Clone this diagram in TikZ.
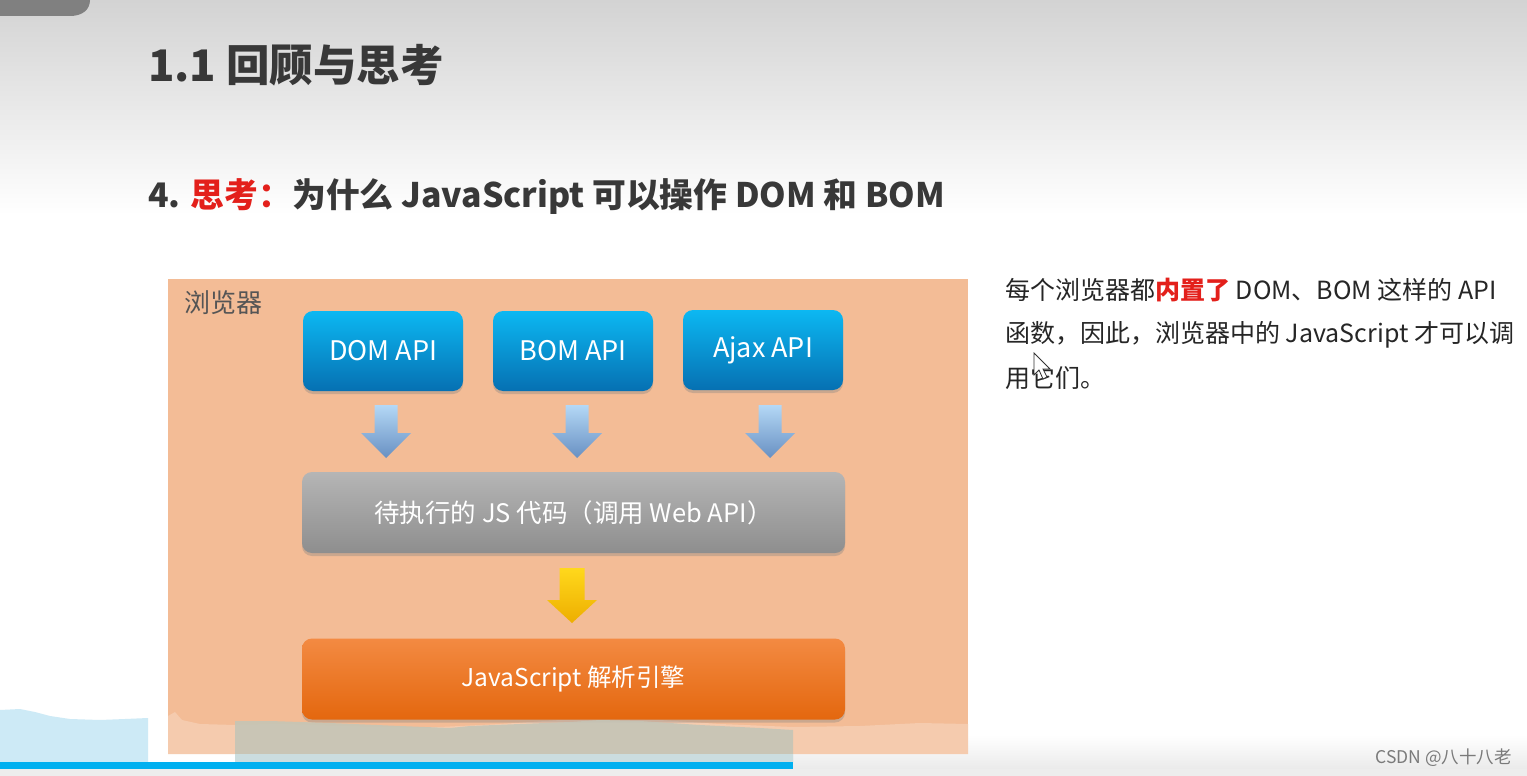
\documentclass[tikz,border=0pt]{standalone}
\usepackage{fontspec}
\setmainfont{Noto Sans CJK SC}
\usetikzlibrary{shadows}
\definecolor{bgtop}{HTML}{D3D3D3}
\definecolor{tabgray}{HTML}{808080}
\definecolor{titlegray}{HTML}{383838}
\definecolor{thinkred}{HTML}{E3201B}
\definecolor{peach}{HTML}{F3BC96}
\definecolor{peachlight}{HTML}{F5CBAE}
\definecolor{labelgray}{HTML}{555555}
\definecolor{bluetop}{HTML}{0CB8F2}
\definecolor{bluebot}{HTML}{0670B2}
\definecolor{graytop}{HTML}{B5B5B5}
\definecolor{graybot}{HTML}{8E8E8E}
\definecolor{orangetop}{HTML}{F38A42}
\definecolor{orangebot}{HTML}{E4670E}
\definecolor{arrtop}{HTML}{B4D8F6}
\definecolor{arrbot}{HTML}{6890C2}
\definecolor{yeltop}{HTML}{FFD81C}
\definecolor{yelbot}{HTML}{EDAE00}
\definecolor{skyfade}{HTML}{CDEAF6}
\definecolor{graygreen}{HTML}{C5C5B6}
\definecolor{barblue}{HTML}{00B0F0}
\definecolor{csdngray}{HTML}{7A7A7A}
\begin{document}
\begin{tikzpicture}[x=1pt,y=-1pt,
  apibox/.style={rounded corners=10pt, minimum width=160pt, minimum height=80pt,
    top color=bluetop, bottom color=bluebot, text=white, inner sep=0pt,
    font=\fontsize{27}{30}\selectfont,
    drop shadow={shadow xshift=0pt, shadow yshift=-3pt, opacity=0.35}},
  widebox/.style={rounded corners=10pt, minimum width=543pt, minimum height=81pt,
    text=white, inner sep=0pt,
    drop shadow={shadow xshift=0pt, shadow yshift=-3pt, opacity=0.35}},
  bluearrow/.style={top color=arrtop, bottom color=arrbot},
  yelarrow/.style={top color=yeltop, bottom color=yelbot},
  bodytext/.style={anchor=west, text=black!85, font=\fontsize{25}{28}\selectfont, inner sep=0pt}
]
\useasboundingbox (0,0) rectangle (1527,776);
\fill[white] (0,0) rectangle (1527,776);
\shade[top color=bgtop, bottom color=white] (0,0) rectangle (1527,215);
\fill[tabgray] (0,0) -- (90,0) .. controls (90,10) and (82,16) .. (70,16) -- (0,16) -- cycle;
\shade[top color=white, bottom color=black!8] (793,735) rectangle (1527,769);
\fill[black!7] (0,769) rectangle (1527,776);

% titles
\node[anchor=west, text=titlegray, inner sep=0pt, font=\fontsize{43.5}{50}\selectfont\bfseries] (title) at (148,65) {1.1 回顾与思考};
\node[anchor=west, text=titlegray, inner sep=0pt, font=\fontsize{33.8}{40}\selectfont\bfseries] (sub) at (148,197) {4. \textcolor{thinkred}{思考：}为什么 JavaScript 可以操作 DOM 和 BOM};

% browser frame
\node[fill=peach, minimum width=800pt, minimum height=475pt, inner sep=0pt] (browser) at (568,516.5) {};
\fill[peachlight] (168,754) -- (168,716) -- (175,712) -- (182,720) -- (200,724) -- (235,725) -- (280,724) -- (340,726) -- (420,728) -- (500,724) -- (560,720) -- (600,719) -- (660,720) -- (720,724) -- (793,727) -- (860,726) -- (920,723) -- (968,724) -- (968,754) -- cycle;
\node[anchor=west, text=labelgray, inner sep=0pt, font=\fontsize{26}{30}\selectfont] (blabel) at (184,303) {浏览器};

% API boxes
\node[apibox] (dom) at (383,351) {DOM API};
\node[apibox] (bom) at (573,351) {BOM API};
\node[apibox] (ajax) at (763,350) {Ajax API};

% blue arrows
\shade[bluearrow] (374.5,405) -- (397.5,405) -- (397.5,433) -- (411,433) -- (386,458) -- (361,433) -- (374.5,433) -- cycle;
\shade[bluearrow] (565.5,405) -- (588.5,405) -- (588.5,433) -- (602,433) -- (577,458) -- (552,433) -- (565.5,433) -- cycle;
\shade[bluearrow] (758.5,405) -- (781.5,405) -- (781.5,433) -- (795,433) -- (770,458) -- (745,433) -- (758.5,433) -- cycle;

% code box
\node[widebox, top color=graytop, bottom color=graybot, font=\fontsize{25.5}{30}\selectfont] (code) at (573.5,512.5) {待执行的 JS 代码（调用 Web API）};

% yellow arrow
\shade[yelarrow] (559.5,568) -- (584.5,568) -- (584.5,600) -- (597,600) -- (572,623) -- (547,600) -- (559.5,600) -- cycle;

% engine box
\node[widebox, top color=orangetop, bottom color=orangebot, font=\fontsize{24.5}{30}\selectfont] (engine) at (573.5,679) {JavaScript 解析引擎};

% screen-capture overlays at bottom
\fill[graygreen, opacity=0.9] (235,762) -- (235,721) -- (270,721) -- (330,723) -- (400,726) -- (450,728) -- (470,726) -- (520,724) -- (570,722) -- (600,720) -- (640,721) -- (700,725) -- (760,728) -- (793,730) -- (793,762) -- cycle;
\fill[skyfade, opacity=0.6] (235,754) rectangle (793,762);
\fill[skyfade] (0,762) -- (0,710) -- (20,709) -- (35,712) -- (50,716) -- (70,719) -- (100,720) -- (125,719) -- (148,718) -- (148,762) -- cycle;
\fill[barblue] (0,762) rectangle (793,769);

% right explanation
\node[bodytext] (t1) at (1005,290) {每个浏览器都\textcolor{thinkred}{\bfseries 内置了} DOM、BOM 这样的 API};
\node[bodytext] (t2) at (1005,335) {函数，因此，浏览器中的 JavaScript 才可以调};
\node[bodytext] (t3) at (1005,378) {用它们。};

% mouse pointer
\filldraw[fill=white, draw=black!80, line width=0.8pt] (1034,353) -- (1034,375) -- (1039,370) -- (1043,379) -- (1047,377) -- (1043,369) -- (1050,369) -- cycle;

% watermark
\node[anchor=east, text=csdngray, inner sep=0pt, font=\fontsize{17.5}{20}\selectfont] (csdn) at (1512,758) {CSDN @八十八老};
\end{tikzpicture}
\end{document}
